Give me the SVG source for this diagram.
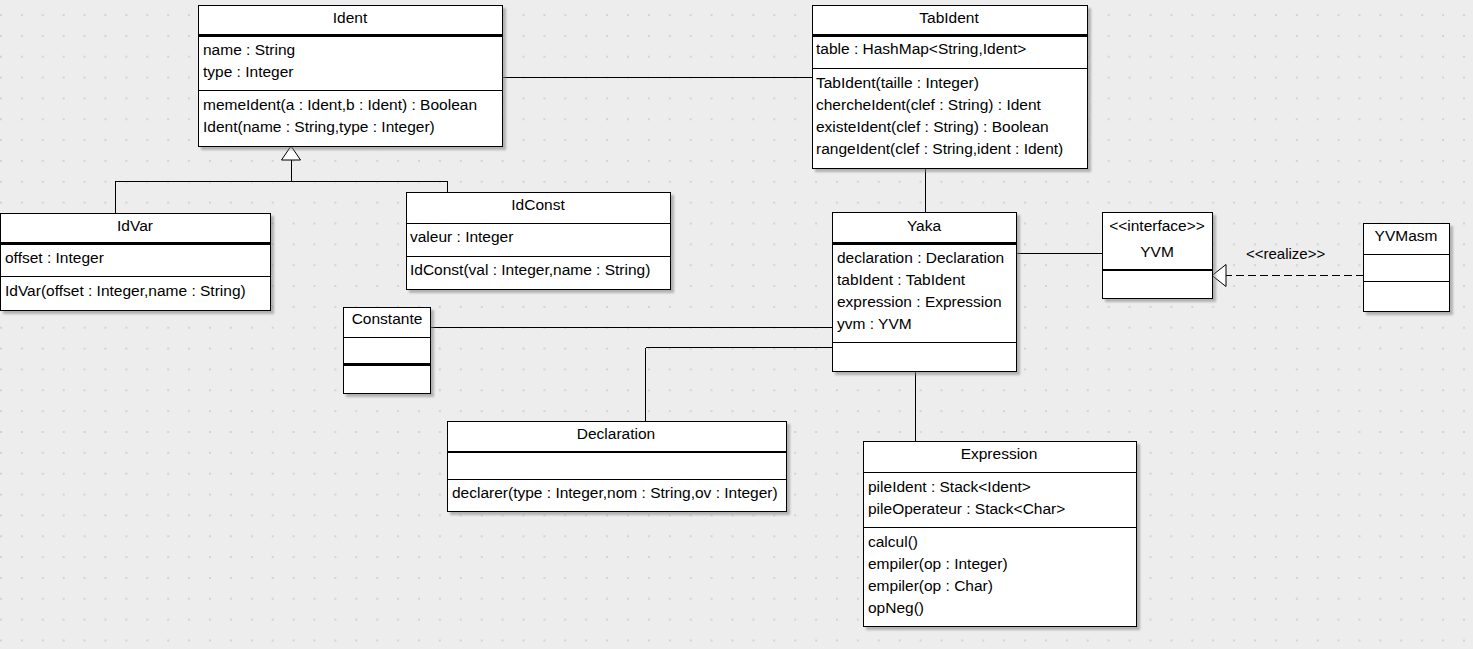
<svg xmlns="http://www.w3.org/2000/svg" width="1473" height="649" viewBox="0 0 1473 649">
  <defs>
    <pattern id="grid" x="0" y="14" width="20.9" height="20.85" patternUnits="userSpaceOnUse">
      <rect x="0" y="0" width="2" height="2" fill="#d3d3d3"/>
    </pattern>
    <filter id="shadow" x="-5%" y="-5%" width="115%" height="115%">
      <feDropShadow dx="3" dy="3" stdDeviation="1.2" flood-color="#808080" flood-opacity="0.55"/>
    </filter>
    <style>
      .box { fill: #ffffff; stroke: #000000; stroke-width: 1; filter: url(#shadow); shape-rendering: crispEdges; }
      .sep { stroke: #000000; stroke-width: 1; shape-rendering: crispEdges; }
      .sep2 { stroke: #000000; stroke-width: 2.5; shape-rendering: crispEdges; }
      .conn { stroke: #000000; stroke-width: 1; fill: none; shape-rendering: crispEdges; }
      .dash { stroke: #000000; stroke-width: 1; fill: none; stroke-dasharray: 8 4; shape-rendering: crispEdges; }
      text { font-family: "Liberation Sans", Arial, sans-serif; font-size: 15.5px; fill: #000000; }
      .t { text-anchor: middle; }
      .lbl { font-size: 15px; }
    </style>
  </defs>

  <rect x="0" y="0" width="1473" height="649" fill="#ededed"/>
  <rect x="0" y="0" width="1473" height="649" fill="url(#grid)"/>

  <!-- associations, generalization and realization -->
  <g id="connectors">
    <path class="conn" d="M502,77.5 H812"/>
    <path class="conn" d="M291,160 V181.5 M115,181.5 H447.5 M115.5,181.5 V213 M447.5,181.5 V192"/>
    <polygon points="291,146 281.5,160 300.5,160" fill="#ffffff" stroke="#000000" stroke-width="1"/>
    <path class="conn" d="M925.5,168 V212.5"/>
    <path class="conn" d="M1016,253.5 H1102.5"/>
    <path class="conn" d="M430,327.5 H832.5"/>
    <path class="conn" d="M645.5,347.5 H832.5 M645.5,347.5 V421"/>
    <path class="conn" d="M915.5,371.5 V441.5"/>
    <path class="dash" d="M1363.5,275.5 H1226"/>
    <polygon points="1212,275.5 1226,264.5 1226,286.5" fill="#ffffff" stroke="#000000" stroke-width="1"/>
    <text class="lbl" x="1246" y="258.5">&lt;&lt;realize&gt;&gt;</text>
  </g>

  <g id="Ident">
    <rect class="box" x="198.5" y="5.5" width="304" height="141"/>
    <line class="sep2" x1="198.5" y1="35.5" x2="502.5" y2="35.5"/>
    <line class="sep" x1="198.5" y1="90.5" x2="502.5" y2="90.5"/>
    <text class="t" x="350" y="22.5">Ident</text>
    <text x="203" y="54.5">name : String</text>
    <text x="203" y="76.5">type : Integer</text>
    <text x="203" y="109.5">memeIdent(a : Ident,b : Ident) : Boolean</text>
    <text x="203" y="131.5">Ident(name : String,type : Integer)</text>
  </g>

  <g id="TabIdent">
    <rect class="box" x="812" y="5.5" width="275" height="163"/>
    <line class="sep2" x1="812" y1="35.5" x2="1087" y2="35.5"/>
    <line class="sep" x1="812" y1="68.5" x2="1087" y2="68.5"/>
    <text class="t" x="949" y="22.5">TabIdent</text>
    <text x="816" y="53.5">table : HashMap&lt;String,Ident&gt;</text>
    <text x="816" y="87.5">TabIdent(taille : Integer)</text>
    <text x="816" y="109.5">chercheIdent(clef : String) : Ident</text>
    <text x="816" y="131.5">existeIdent(clef : String) : Boolean</text>
    <text x="816" y="153.5">rangeIdent(clef : String,ident : Ident)</text>
  </g>

  <g id="IdVar">
    <rect class="box" x="0.5" y="213" width="270" height="97"/>
    <line class="sep2" x1="0.5" y1="243.5" x2="270.5" y2="243.5"/>
    <line class="sep" x1="0.5" y1="276.5" x2="270.5" y2="276.5"/>
    <text class="t" x="135" y="230.5">IdVar</text>
    <text x="5" y="262.5">offset : Integer</text>
    <text x="5" y="295.5">IdVar(offset : Integer,name : String)</text>
  </g>

  <g id="IdConst">
    <rect class="box" x="406" y="192" width="264" height="97"/>
    <line class="sep" x1="406" y1="223.5" x2="670" y2="223.5"/>
    <line class="sep" x1="406" y1="256" x2="670" y2="256"/>
    <text class="t" x="538" y="209.5">IdConst</text>
    <text x="410" y="241.5">valeur : Integer</text>
    <text x="410" y="274.5">IdConst(val : Integer,name : String)</text>
  </g>

  <g id="Constante">
    <rect class="box" x="343.5" y="307" width="86.5" height="86.5"/>
    <line class="sep" x1="343.5" y1="337" x2="430" y2="337"/>
    <line class="sep2" x1="343.5" y1="364.5" x2="430" y2="364.5"/>
    <text class="t" x="387" y="323.5">Constante</text>
  </g>

  <g id="Yaka">
    <rect class="box" x="832.5" y="212.5" width="183.5" height="159"/>
    <line class="sep2" x1="832.5" y1="243.5" x2="1016" y2="243.5"/>
    <line class="sep" x1="832.5" y1="342.5" x2="1016" y2="342.5"/>
    <text class="t" x="924" y="230.5">Yaka</text>
    <text x="837" y="262.5">declaration : Declaration</text>
    <text x="837" y="284.5">tabIdent : TabIdent</text>
    <text x="837" y="306.5">expression : Expression</text>
    <text x="837" y="328.5">yvm : YVM</text>
  </g>

  <g id="YVM">
    <rect class="box" x="1102.5" y="212.5" width="109.5" height="86"/>
    <line class="sep2" x1="1102.5" y1="270" x2="1212" y2="270"/>
    <text class="t" x="1157" y="231">&lt;&lt;interface&gt;&gt;</text>
    <text class="t" x="1157" y="256.5">YVM</text>
  </g>

  <g id="YVMasm">
    <rect class="box" x="1363.5" y="223.5" width="86" height="87.5"/>
    <line class="sep" x1="1363.5" y1="254" x2="1449.5" y2="254"/>
    <line class="sep" x1="1363.5" y1="281.5" x2="1449.5" y2="281.5"/>
    <text class="t" x="1406" y="240.5">YVMasm</text>
  </g>

  <g id="Declaration">
    <rect class="box" x="447.5" y="421" width="339" height="90.5"/>
    <line class="sep2" x1="447.5" y1="452" x2="786.5" y2="452"/>
    <line class="sep" x1="447.5" y1="479.5" x2="786.5" y2="479.5"/>
    <text class="t" x="616" y="438.5">Declaration</text>
    <text x="452" y="497.5">declarer(type : Integer,nom : String,ov : Integer)</text>
  </g>

  <g id="Expression">
    <rect class="box" x="863.5" y="441.5" width="273" height="185"/>
    <line class="sep" x1="863.5" y1="472.5" x2="1136.5" y2="472.5"/>
    <line class="sep" x1="863.5" y1="527.5" x2="1136.5" y2="527.5"/>
    <text class="t" x="999" y="458.5">Expression</text>
    <text x="868" y="491.5">pileIdent : Stack&lt;Ident&gt;</text>
    <text x="868" y="513.5">pileOperateur : Stack&lt;Char&gt;</text>
    <text x="868" y="546.5">calcul()</text>
    <text x="868" y="568.5">empiler(op : Integer)</text>
    <text x="868" y="590.5">empiler(op : Char)</text>
    <text x="868" y="612.5">opNeg()</text>
  </g>
</svg>
